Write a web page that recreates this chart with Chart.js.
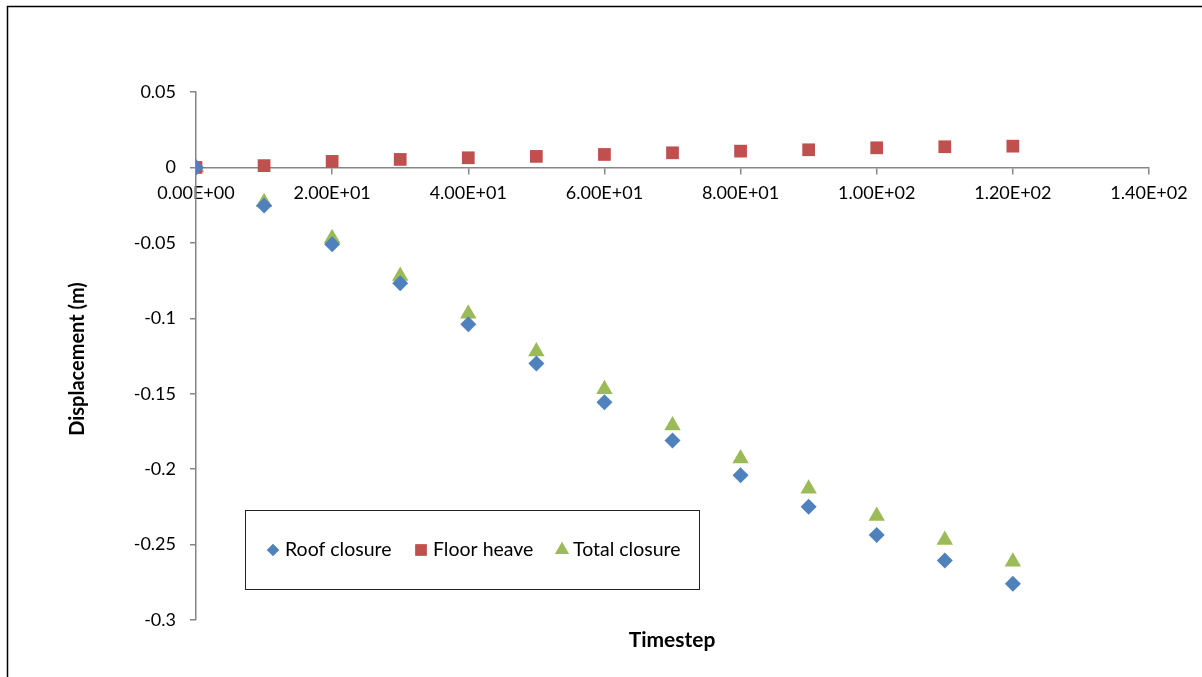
<!DOCTYPE html>
<html>
<head>
<meta charset="utf-8">
<script src="https://cdn.jsdelivr.net/npm/chart.js@4.4.0/dist/chart.umd.min.js"></script>
<style>
    html, body { margin: 0; padding: 0; background: #fff; }
    #wrap { position: relative; width: 1202px; height: 677px; }
</style>
</head>
<body>
<div id="wrap"><canvas id="chart" width="1202" height="677"></canvas></div>
<script>
// Chart data
const timesteps = [0, 10, 20, 30, 40, 50, 60, 70, 80, 90, 100, 110, 120];
const roofClosure = [0, -0.0252, -0.051, -0.0768, -0.104, -0.130, -0.1556, -0.181, -0.204, -0.225, -0.2437, -0.2605, -0.276];
const floorHeave = [0, 0.0012, 0.004, 0.0053, 0.0064, 0.0073, 0.0086, 0.0097, 0.0108, 0.0117, 0.013, 0.0137, 0.0141];
const totalClosure = [0, -0.023, -0.047, -0.072, -0.097, -0.122, -0.147, -0.171, -0.193, -0.213, -0.231, -0.247, -0.2614];
const xTicks = [0, 20, 40, 60, 80, 100, 120, 140];
const yTicks = [0.05, 0, -0.05, -0.1, -0.15, -0.2, -0.25, -0.3];

const FONT = 'Lato, "Open Sans", sans-serif';
const AXIS_GREY = '#868686';

const toPoints = (vals) => vals.map((v, i) => ({ x: timesteps[i], y: v }));

// Excel style scientific label: 2.00E+01
function sciLabel(v) {
    const [m, e] = v.toExponential(2).split('e');
    const sign = e[0] === '-' ? '-' : '+';
    const digits = e.replace(/[+-]/, '').padStart(2, '0');
    return m + 'E' + sign + digits;
}

// Outer frame, axis titles and boxed legend
const decorations = {
    id: 'decorations',
    afterDraw(chart) {
        const ctx = chart.ctx;
        const area = chart.chartArea;
        ctx.save();

        // outer frame
        ctx.strokeStyle = '#000';
        ctx.lineWidth = 1.5;
        ctx.beginPath();
        ctx.moveTo(1210, 6.5);
        ctx.lineTo(7.5, 6.5);
        ctx.lineTo(7.5, 690);
        ctx.stroke();

        // axis titles
        ctx.fillStyle = '#000';
        ctx.font = 'bold 21px ' + FONT;
        ctx.textAlign = 'center';
        ctx.textBaseline = 'middle';
        ctx.fillText('Timestep', (area.left + area.right) / 2 - 0.5, 640);
        ctx.save();
        ctx.translate(78, 359);
        ctx.rotate(-Math.PI / 2);
        ctx.font = 'bold 20px ' + FONT;
        ctx.fillText('Displacement (m)', 0, 0);
        ctx.restore();

        // legend box
        ctx.fillStyle = '#fff';
        ctx.fillRect(245, 510, 454, 79);
        ctx.strokeStyle = '#222';
        ctx.lineWidth = 1;
        ctx.strokeRect(245.5, 510.5, 454, 79);

        const items = [
            { ds: 0, mx: 273, tx: 285 },
            { ds: 1, mx: 421, tx: 433 },
            { ds: 2, mx: 562, tx: 573 }
        ];
        ctx.font = '19.5px ' + FONT;
        ctx.textAlign = 'left';
        items.forEach(it => {
            const ds = chart.data.datasets[it.ds];
            ctx.fillStyle = ds.backgroundColor;
            Chart.helpers.drawPoint(ctx, {
                pointStyle: ds.pointStyle,
                radius: ds.legendRadius,
                borderWidth: 0,
                rotation: 0
            }, it.mx, 550);
            ctx.fill();
            ctx.fillStyle = '#000';
            ctx.fillText(ds.label, it.tx, 550);
        });
        ctx.restore();
    }
};

new Chart(document.getElementById('chart'), {
    type: 'scatter',
    data: {
        datasets: [{
            label: 'Roof closure',
            data: toPoints(roofClosure),
            pointStyle: 'rectRot',
            pointRadius: 8,
            legendRadius: 6,
            backgroundColor: '#4F81BD',
            borderColor: '#4F81BD',
            borderWidth: 0
        }, {
            label: 'Floor heave',
            data: toPoints(floorHeave),
            pointStyle: 'rect',
            pointRadius: 9,
            legendRadius: 8,
            backgroundColor: '#C0504D',
            borderColor: '#C0504D',
            borderWidth: 0
        }, {
            label: 'Total closure',
            data: toPoints(totalClosure),
            pointStyle: 'triangle',
            pointRadius: 9.5,
            legendRadius: 8,
            backgroundColor: '#9BBB59',
            borderColor: '#9BBB59',
            borderWidth: 0
        }]
    },
    options: {
        responsive: false,
        animation: false,
        layout: { padding: { left: 0, right: 53, top: 92, bottom: 57 } },
        plugins: {
            legend: { display: false },
            tooltip: { enabled: false }
        },
        scales: {
            x: {
                type: 'linear',
                position: { y: 0 },
                min: 0,
                max: 140,
                afterBuildTicks: (s) => { s.ticks = xTicks.map(v => ({ value: v })); },
                border: { color: AXIS_GREY, width: 1.5 },
                grid: { drawOnChartArea: false, color: AXIS_GREY, tickLength: 6, lineWidth: 1.5 },
                ticks: {
                    color: '#000',
                    font: { family: FONT, size: 18 },
                    padding: 9,
                    maxRotation: 0,
                    autoSkip: false,
                    callback: (v) => sciLabel(v)
                }
            },
            y: {
                type: 'linear',
                min: -0.3,
                max: 0.05,
                afterBuildTicks: (s) => { s.ticks = yTicks.map(v => ({ value: v })); },
                afterFit: (s) => { s.width = 196; },
                border: { color: AXIS_GREY, width: 1.5 },
                grid: { drawOnChartArea: false, color: AXIS_GREY, tickLength: 6, lineWidth: 1.5 },
                ticks: {
                    color: '#000',
                    font: { family: FONT, size: 18 },
                    padding: 14,
                    callback: (v) => String(parseFloat(v.toFixed(2)))
                }
            }
        }
    },
    plugins: [decorations]
});
</script>
</body>
</html>
